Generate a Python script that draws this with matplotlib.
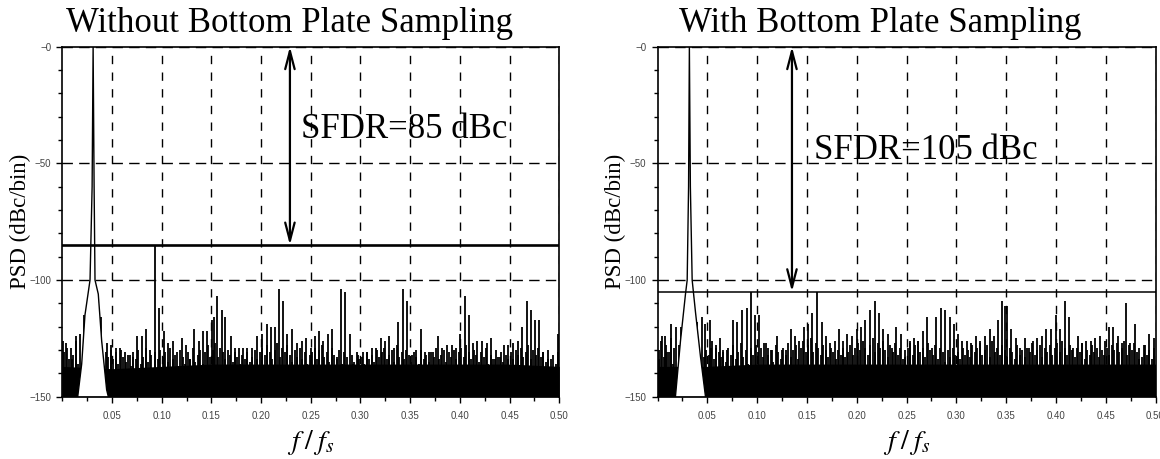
import numpy as np
import matplotlib.pyplot as plt
from matplotlib.ticker import MultipleLocator

plt.rcParams['mathtext.fontset'] = 'stix'

W, H = 1160, 459
fig = plt.figure(figsize=(W / 100, H / 100), dpi=100)

# ---------------- data ----------------
titles = ['Without Bottom Plate Sampling', 'With Bottom Plate Sampling']
sfdr_text = ['SFDR=85 dBc', 'SFDR=105 dBc']
sfdr_db = [-85, -105]
arrow_f = [0.229, 0.135]

xticks = [0.05, 0.10, 0.15, 0.20, 0.25, 0.30, 0.35, 0.40, 0.45, 0.50]
xtick_labels = ['0.05', '0.10', '0.15', '0.20', '0.25', '0.30', '0.35', '0.40', '0.45', '0.50']
yticks = [0, -50, -100, -150]
ytick_labels = ['\u22120', '\u221250', '\u2212100', '\u2212150']

# fundamental tone (skirt outline)
tone_f_L = [0.0155, 0.0195, 0.0228, 0.0279, 0.0300, 0.0310, 0.0320, 0.0329, 0.0362, 0.0396, 0.0446, 0.0463]
tone_db_L = [-150, -136, -115, -100, -60, 0, -60, -100, -106, -126, -147, -150]
tone_f_R = [0.0180, 0.0231, 0.0281, 0.0298, 0.0312, 0.0320, 0.0330, 0.0348, 0.0382, 0.0432, 0.0482]
tone_db_R = [-150, -126, -106, -100, -60, 0, -60, -100, -114, -133, -150]

# top of the solid noise floor
floor_f = [0.0, 0.05, 0.10, 0.15, 0.20, 0.25, 0.30, 0.35, 0.40, 0.45, 0.50]
floor_db_L = [-137, -138, -137, -136, -136, -136, -136, -136, -136, -136, -137]
floor_db_R = [-137, -137, -136, -136, -136, -136, -136, -136, -136, -136, -136]

# dense noise lines, one per 0.0025 bin starting at 0.00125 (20 per 0.05 band)
noise_f0, noise_df = 0.00125, 0.0025
noise_db_L = [
    -131, -127, -134, -129, -132, -126, -136, -138, -140, -140, -140, -140, -140, -140, -140, -140, -134, -131, -133, -130,
    -134, -131, -136, -130, -133, -135, -132, -137, -131, -134, -130, -136, -133, -129, -135, -132, -138, -131, -134, -130,
    -133, -131, -135, -129, -134, -132, -137, -130, -133, -136, -131, -134, -129, -135, -132, -130, -136, -131, -128, -133,
    -130, -127, -133, -129, -131, -134, -130, -132, -135, -131, -133, -136, -132, -134, -131, -135, -133, -130, -134, -131,
    -129, -132, -128, -131, -134, -130, -127, -133, -129, -131, -128, -132, -135, -130, -133, -129, -134, -131, -136, -132,
    -131, -129, -134, -130, -128, -133, -131, -135, -129, -132, -134, -130, -136, -131, -133, -137, -132, -135, -131, -134,
    -133, -136, -131, -134, -132, -135, -130, -133, -131, -129, -134, -132, -130, -135, -128, -133, -131, -134, -130, -132,
    -135, -131, -133, -136, -130, -134, -132, -135, -131, -133, -129, -134, -132, -130, -135, -131, -133, -130, -134, -131,
    -129, -133, -128, -131, -134, -130, -132, -135, -131, -133, -129, -136, -132, -134, -130, -133, -131, -135, -132, -134,
    -131, -134, -130, -132, -129, -133, -131, -128, -134, -130, -132, -129, -133, -131, -135, -130, -134, -132, -136, -131,
]
noise_db_R = [
    -130, -126, -133, -128, -131, -125, -129, -138, -140, -140, -140, -140, -140, -140, -140, -140, -140, -136, -133, -130,
    -132, -129, -134, -128, -131, -133, -130, -135, -129, -132, -128, -134, -131, -127, -133, -130, -136, -129, -132, -128,
    -131, -129, -133, -127, -132, -130, -135, -128, -131, -134, -129, -132, -127, -133, -130, -128, -134, -129, -126, -131,
    -128, -125, -131, -127, -129, -132, -128, -130, -133, -129, -131, -134, -130, -132, -129, -133, -131, -128, -132, -129,
    -127, -130, -126, -129, -132, -128, -125, -131, -127, -129, -126, -130, -133, -128, -131, -127, -132, -129, -134, -130,
    -129, -127, -132, -128, -126, -131, -129, -133, -127, -130, -132, -128, -134, -129, -131, -135, -130, -133, -129, -132,
    -131, -134, -129, -132, -130, -133, -128, -131, -129, -127, -132, -130, -128, -133, -126, -131, -129, -132, -128, -130,
    -133, -129, -131, -134, -128, -132, -130, -133, -129, -131, -127, -132, -130, -128, -133, -129, -131, -128, -132, -129,
    -127, -131, -126, -129, -132, -128, -130, -133, -129, -131, -127, -134, -130, -132, -128, -131, -129, -133, -130, -132,
    -129, -132, -128, -130, -127, -131, -129, -126, -132, -128, -130, -127, -131, -129, -133, -128, -132, -130, -134, -129,
]

# spurs / tallest noise lines
spur_f_L = [0.0010, 0.0044, 0.0094, 0.0135, 0.0178, 0.0221, 0.0362, 0.0386, 0.0447, 0.0487,
            0.0540, 0.0580, 0.0630, 0.0680, 0.0715, 0.0755, 0.0800, 0.0840, 0.0880, 0.0935,
            0.0976, 0.1020, 0.1066, 0.1110, 0.1157, 0.1200, 0.1240, 0.1280, 0.1328, 0.1375,
            0.1418, 0.1453, 0.1510, 0.1526, 0.1553, 0.1603, 0.1637, 0.1694, 0.1737, 0.1778,
            0.1821, 0.1861, 0.1905, 0.1956, 0.2006, 0.2056, 0.2097, 0.2140, 0.2177, 0.2224,
            0.2264, 0.2308, 0.2358, 0.2408, 0.2452, 0.2499, 0.2542, 0.2582, 0.2626, 0.2670,
            0.2710, 0.2761, 0.2801, 0.2844, 0.2894, 0.2928, 0.2978, 0.3022, 0.3062, 0.3113,
            0.3156, 0.3203, 0.3247, 0.3290, 0.3337, 0.3380, 0.3425, 0.3471, 0.3515, 0.3558,
            0.3606, 0.3649, 0.3692, 0.3732, 0.3780, 0.3823, 0.3867, 0.3917, 0.3961, 0.4004,
            0.4048, 0.4095, 0.4135, 0.4175, 0.4219, 0.4270, 0.4313, 0.4356, 0.4403, 0.4447,
            0.4487, 0.4531, 0.4581, 0.4625, 0.4672, 0.4712, 0.4759, 0.4799, 0.4839, 0.4889,
            0.4985]
spur_db_L = [-126, -129, -134, -124, -123, -115, -106, -116, -127, -128,
             -129, -129, -131, -132, -133, -124, -124, -121, -130, -85,
             -112, -122, -127, -126, -131, -125, -128, -134, -121, -126,
             -122, -122, -117, -116, -107, -113, -116, -124, -129, -129,
             -129, -129, -129, -124, -123, -119, -120, -120, -104, -109,
             -123, -121, -127, -126, -125, -129, -124, -122, -126, -123,
             -121, -133, -104, -105, -123, -136, -132, -131, -131, -129,
             -129, -125, -126, -124, -129, -118, -104, -109, -132, -130,
             -121, -131, -131, -131, -124, -129, -128, -128, -129, -123,
             -107, -115, -127, -126, -126, -127, -125, -134, -133, -128,
             -128, -127, -126, -120, -109, -113, -117, -117, -131, -134,
             -123]

spur_f_R = [0.0018, 0.0042, 0.0075, 0.0099, 0.0132, 0.0159, 0.0182, 0.0219, 0.0236, 0.0359,
            0.0399, 0.0443, 0.0476, 0.0527, 0.0543, 0.0587, 0.0627, 0.0660, 0.0700, 0.0754,
            0.0800, 0.0844, 0.0894, 0.0938, 0.0978, 0.1018, 0.1068, 0.1112, 0.1152, 0.1195,
            0.1245, 0.1286, 0.1336, 0.1379, 0.1423, 0.1466, 0.1513, 0.1556, 0.1597, 0.1647,
            0.1690, 0.1730, 0.1780, 0.1824, 0.1864, 0.1907, 0.1954, 0.1998, 0.2041, 0.2088,
            0.2131, 0.2182, 0.2225, 0.2265, 0.2315, 0.2355, 0.2399, 0.2449, 0.2489, 0.2533,
            0.2573, 0.2616, 0.2666, 0.2710, 0.2756, 0.2800, 0.2844, 0.2884, 0.2934, 0.2977,
            0.3017, 0.3061, 0.3107, 0.3151, 0.3195, 0.3241, 0.3285, 0.3335, 0.3375, 0.3418,
            0.3462, 0.3485, 0.3509, 0.3552, 0.3596, 0.3643, 0.3686, 0.3729, 0.3769, 0.3813,
            0.3860, 0.3904, 0.3954, 0.3997, 0.4037, 0.4087, 0.4130, 0.4171, 0.4221, 0.4261,
            0.4305, 0.4355, 0.4395, 0.4438, 0.4488, 0.4529, 0.4572, 0.4622, 0.4662, 0.4706,
            0.4746, 0.4799, 0.4839, 0.4890, 0.4933, 0.4985]
spur_db_R = [-134, -124, -124, -131, -119, -136, -120, -128, -120, -106,
             -118, -116, -119, -117, -126, -129, -125, -131, -130, -117,
             -118, -113, -112, -105, -115, -115, -127, -129, -130, -124,
             -130, -130, -121, -124, -126, -120, -119, -114, -105, -118,
             -124, -127, -126, -121, -126, -123, -124, -121, -120, -117,
             -113, -109, -114, -121, -123, -129, -120, -123, -133, -126,
             -125, -126, -122, -116, -129, -116, -112, -113, -116, -119,
             -123, -126, -126, -127, -124, -126, -124, -121, -124, -117,
             -109, -111, -111, -121, -125, -129, -125, -129, -126, -125,
             -124, -121, -121, -115, -121, -109, -116, -129, -124, -127,
             -126, -126, -125, -124, -126, -120, -120, -124, -127, -110,
             -127, -119, -134, -128, -123, -125]

panels = [
    dict(left=62.3, width=497.0, title_x=290, tone_f=tone_f_L, tone_db=tone_db_L,
         floor_db=floor_db_L, noise_db=noise_db_L, spur_f=spur_f_L, spur_db=spur_db_L,
         hline_lw=1.9, text_xy=(0.240, -39)),
    dict(left=657.5, width=498.0, title_x=880, tone_f=tone_f_R, tone_db=tone_db_R,
         floor_db=floor_db_R, noise_db=noise_db_R, spur_f=spur_f_R, spur_db=spur_db_R,
         hline_lw=1.1, text_xy=(0.157, -48)),
]

serif = 'Liberation Serif'
sans = 'Liberation Sans'
ax_bottom = (H - 396.7) / H
ax_height = 350.0 / H

for i, p in enumerate(panels):
    ax = fig.add_axes([p['left'] / W, ax_bottom, p['width'] / W, ax_height])
    ax.set_xlim(0, 0.5)
    ax.set_ylim(-150, 0)

    # ticks + dashed grid
    ax.set_xticks(xticks)
    ax.set_xticklabels(xtick_labels)
    ax.set_yticks(yticks)
    ax.set_yticklabels(ytick_labels)
    ax.xaxis.set_minor_locator(MultipleLocator(0.025))
    ax.yaxis.set_minor_locator(MultipleLocator(10))
    ax.xaxis.grid(True, which='major', linestyle=(0, (6, 6)), color='k', lw=1.0, zorder=1)
    ax.yaxis.grid(True, which='major', linestyle=(0, (7.5, 4.5)), color='k', lw=1.0, zorder=1)
    ax.set_axisbelow(True)

    ax.tick_params(which='both', direction='out', width=1.0, colors='k',
                   labelsize=7, labelcolor='#444444')
    ax.tick_params(which='major', length=4)
    ax.tick_params(which='minor', length=3)
    ax.tick_params(axis='x', which='major', pad=6.5)
    ax.tick_params(axis='y', which='major', pad=4)
    for lab in ax.get_xticklabels() + ax.get_yticklabels():
        lab.set_family(sans)
    for s in ax.spines.values():
        s.set_linewidth(1.2)

    # spectrum: solid floor, noise lines, spurs, then the white area under the tone skirt
    noise_f = noise_f0 + noise_df * np.arange(len(p['noise_db']))
    ax.fill_between(floor_f, -150, p['floor_db'], color='k', lw=0, zorder=2)
    ax.vlines(noise_f, -150, p['noise_db'], color='k', lw=1.3, zorder=2)
    ax.vlines(p['spur_f'], -150, p['spur_db'], color='k', lw=1.3, zorder=2)
    ax.fill(p['tone_f'], p['tone_db'], color='white', lw=0, zorder=2.5)
    ax.plot(p['tone_f'], p['tone_db'], color='k', lw=1.0, zorder=3)

    # SFDR marker
    ax.axhline(sfdr_db[i], color='k', lw=p['hline_lw'], zorder=4)
    ax.annotate('', xy=(arrow_f[i], sfdr_db[i]), xytext=(arrow_f[i], 0),
                arrowprops=dict(arrowstyle='<->,head_length=0.65,head_width=0.17',
                                lw=1.6, color='k', mutation_scale=20,
                                shrinkA=0, shrinkB=0), zorder=5)
    ax.text(p['text_xy'][0], p['text_xy'][1], sfdr_text[i], fontsize=25,
            family=serif, ha='left', va='baseline', zorder=6)

    ax.text(-0.085, 0.5, 'PSD (dBc/bin)', rotation=90, fontsize=16.5, family=serif,
            ha='center', va='center', transform=ax.transAxes)
    ax.text(0.5, -0.131, r'$f\;/\;f_s$', fontsize=20, ha='center', va='center',
            transform=ax.transAxes)

    fig.text(p['title_x'] / W, 1 - 31.7 / H, titles[i], fontsize=25, family=serif,
             ha='center', va='baseline')

fig.savefig('out.png', dpi=100)
